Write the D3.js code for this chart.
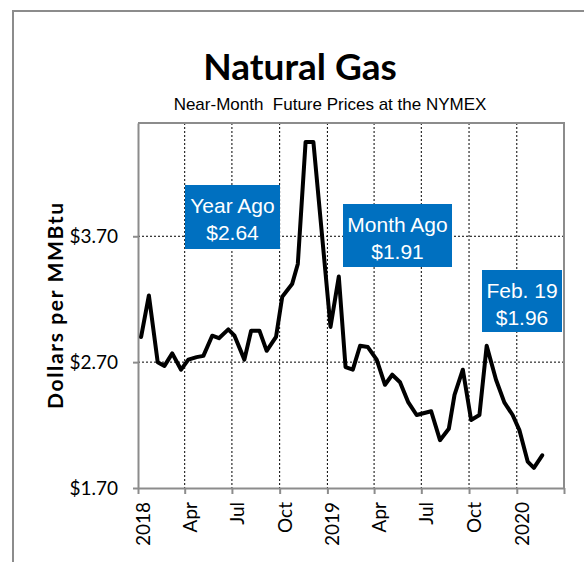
<!DOCTYPE html>
<html>
<head>
<meta charset="utf-8">
<script src="https://cdnjs.cloudflare.com/ajax/libs/d3/7.8.5/d3.min.js"></script>
<style>
  body { margin: 0; background: #fff; }
  .title { font-family: Lato, sans-serif; font-weight: bold; font-size: 37px; }
  .subtitle { font-family: "Liberation Sans", Arial, sans-serif; font-size: 17px; white-space: pre; }
  .tick text { font-family: Lato, sans-serif; font-size: 19px; fill: #000; }
  .ytitle { font-family: Lato, sans-serif; font-weight: bold; font-size: 21px; }
  .boxText { font-family: "Liberation Sans", Arial, sans-serif; font-size: 21px; fill: #fff; }
</style>
</head>
<body>
<div id="container"></div>
<script>
// Hard Code values ---------- ---------- ----------
let canvasW = 584, canvasH = 562;
let title = "Natural Gas";
let subtitle = "Near-Month  Future Prices at the NYMEX";

// Data ---------- ---------- ----------
let dates = ["2018-01-07","2018-01-22","2018-02-08","2018-02-21","2018-03-08","2018-03-25",
  "2018-04-08","2018-04-24","2018-05-07","2018-05-24","2018-06-06","2018-06-24",
  "2018-07-06","2018-07-25","2018-08-07","2018-08-23","2018-09-06","2018-09-24",
  "2018-10-06","2018-10-25","2018-11-05","2018-11-20","2018-12-05",
  "2019-01-07","2019-01-23","2019-02-05","2019-02-19","2019-03-05","2019-03-20",
  "2019-04-06","2019-04-22","2019-05-06","2019-05-21","2019-06-06","2019-06-22",
  "2019-07-20","2019-08-06","2019-08-23","2019-09-03","2019-09-19",
  "2019-10-05","2019-10-21","2019-11-04","2019-11-22","2019-12-08","2019-12-24",
  "2020-01-06","2020-01-22","2020-02-03","2020-02-19"];
let prices = [2.90,3.23,2.70,2.67,2.77,2.64,
  2.72,2.74,2.75,2.91,2.89,2.96,
  2.91,2.72,2.95,2.95,2.79,2.90,
  3.22,3.32,3.48,4.45,4.45,
  2.98,3.38,2.66,2.64,2.83,2.82,
  2.72,2.52,2.60,2.54,2.38,2.28,
  2.31,2.08,2.17,2.44,2.64,
  2.24,2.28,2.83,2.56,2.38,2.28,
  2.16,1.91,1.86,1.96];
let xTickDates = ["2018-01-01","2018-04-01","2018-07-01","2018-10-01","2019-01-01",
  "2019-04-01","2019-07-01","2019-10-01","2020-01-01","2020-04-01"];
let xTickLabels = ["2018","Apr","Jul","Oct","2019","Apr","Jul","Oct","2020",""];
let yTicks = [1.70, 2.70, 3.70];
let callouts = [
  {line1: "Year Ago",  line2: "$2.64", x0: 185, y0: 185, x1: 280, y1: 249},
  {line1: "Month Ago", line2: "$1.91", x0: 343, y0: 204, x1: 452, y1: 267},
  {line1: "Feb. 19",   line2: "$1.96", x0: 482, y0: 270, x1: 562, y1: 332}
];

//Initialize ---------- ---------- ----------
let parse = d3.timeParse("%Y-%m-%d");
let data = dates.map((d,i)=> ({date: parse(d), price: prices[i]}));

let svg = d3.select("#container").append("svg").attr("width", canvasW).attr("height", canvasH);
let plotL = 138, plotR = 564, plotT = 123, plotB = 488;

// Outer frame
svg.append("rect").attr("x", 13).attr("y", 11).attr("width", 700).attr("height", 700)
    .attr("fill", "none").attr("stroke", "#8c8c8c").attr("stroke-width", 2);

// Titles
svg.append("text").attr("class","title").attr("x", 300).attr("y", 80)
    .attr("text-anchor","middle").text(title);
svg.append("text").attr("class","subtitle").attr("x", 330).attr("y", 110)
    .attr("text-anchor","middle").text(subtitle);

// Scales ---------- ---------- ----------
let x = d3.scaleTime().domain([parse("2018-01-01"), parse("2020-04-01")]).range([plotL, plotR]);
let y = d3.scaleLinear().domain([1.7, 4.6]).range([plotB, plotT]);

// Grid
svg.append("g").selectAll("line").data(xTickDates.slice(1, -1)).enter().append("line")
    .attr("x1", d=> x(parse(d))).attr("x2", d=> x(parse(d)))
    .attr("y1", plotT).attr("y2", plotB)
    .attr("stroke","#000").attr("stroke-width",1).attr("stroke-dasharray","2,2");
svg.append("g").selectAll("line").data(yTicks.slice(1)).enter().append("line")
    .attr("x1", plotL).attr("x2", plotR)
    .attr("y1", d=> y(d)).attr("y2", d=> y(d))
    .attr("stroke","#000").attr("stroke-width",1).attr("stroke-dasharray","2,2");

// Plot border (top/right)
svg.append("path")
    .attr("d", "M"+plotL+","+plotT+"H"+plotR+"V"+plotB)
    .attr("fill","none").attr("stroke","#8c8c8c").attr("stroke-width",2);

// Axes ---------- ---------- ----------
let yAxis = svg.append("g").attr("transform","translate("+plotL+",0)")
    .call(d3.axisLeft(y).tickValues(yTicks).tickSize(5).tickSizeOuter(0).tickPadding(15)
        .tickFormat(d=> "$" + d3.format(".2f")(d)));
let xAxis = svg.append("g").attr("transform","translate(0,"+plotB+")")
    .call(d3.axisBottom(x).tickValues(xTickDates.map(parse)).tickSize(6).tickSizeOuter(0)
        .tickFormat((d,i)=> xTickLabels[i]));
xAxis.selectAll("text")
    .attr("transform","rotate(-90)")
    .attr("text-anchor","end")
    .attr("x", -14).attr("y", 0).attr("dy","0.6em")
    .attr("dx", 0);
[yAxis, xAxis].forEach(a=> {
  a.select(".domain").attr("stroke","#8c8c8c").attr("stroke-width",2);
  a.selectAll(".tick line").attr("stroke","#8c8c8c").attr("stroke-width",2);
});

// Y title
svg.append("text").attr("class","ytitle")
    .attr("transform","translate(63,306) rotate(-90)")
    .attr("text-anchor","middle")
    .attr("textLength", 206).attr("lengthAdjust","spacing")
    .text("Dollars per MMBtu");

// Line ---------- ---------- ----------
svg.append("path").datum(data)
    .attr("d", d3.line().x(d=> x(d.date)).y(d=> y(d.price)))
    .attr("fill","none").attr("stroke","#000").attr("stroke-width",4)
    .attr("stroke-linejoin","round").attr("stroke-linecap","round");

// Callouts ---------- ---------- ----------
let boxes = svg.selectAll(".callout").data(callouts).enter().append("g").attr("class","callout");
boxes.append("rect")
    .attr("x", d=> d.x0).attr("y", d=> d.y0)
    .attr("width", d=> d.x1 - d.x0).attr("height", d=> d.y1 - d.y0)
    .attr("fill","#0070c0");
boxes.append("text").attr("class","boxText").attr("text-anchor","middle")
    .attr("x", d=> (d.x0 + d.x1)/2).attr("y", d=> d.y0 + 28).text(d=> d.line1);
boxes.append("text").attr("class","boxText").attr("text-anchor","middle")
    .attr("x", d=> (d.x0 + d.x1)/2).attr("y", d=> d.y0 + 55).text(d=> d.line2);
</script>
</body>
</html>
